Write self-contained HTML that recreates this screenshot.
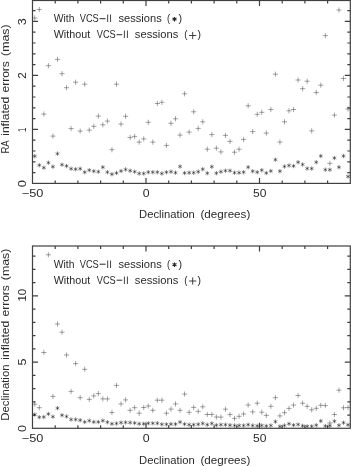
<!DOCTYPE html>
<html><head><meta charset="utf-8"><style>
html,body{margin:0;padding:0;background:#fff;}
svg{display:block;will-change:transform;}
text{font-family:"Liberation Sans", sans-serif;fill:#2a2a2a;}
</style></head><body>
<svg width="351" height="466" viewBox="0 0 351 466">
<rect width="351" height="466" fill="#fff"/>
<defs><clipPath id="c1"><rect x="32.5" y="0.5" width="317.8" height="182.9"/></clipPath><clipPath id="c2"><rect x="32.5" y="246.0" width="317.8" height="182.3"/></clipPath></defs>
<rect x="32.5" y="0.5" width="317.80" height="182.90" fill="none" stroke="#404040" stroke-width="1.2"/>
<path d="M55.20 183.40v-3.0M55.20 0.50v3.0M77.90 183.40v-3.0M77.90 0.50v3.0M100.60 183.40v-3.0M100.60 0.50v3.0M123.30 183.40v-3.0M123.30 0.50v3.0M146.00 183.40v-5.5M146.00 0.50v5.5M168.70 183.40v-3.0M168.70 0.50v3.0M191.40 183.40v-3.0M191.40 0.50v3.0M214.10 183.40v-3.0M214.10 0.50v3.0M236.80 183.40v-3.0M236.80 0.50v3.0M259.50 183.40v-5.5M259.50 0.50v5.5M282.20 183.40v-3.0M282.20 0.50v3.0M304.90 183.40v-3.0M304.90 0.50v3.0M327.60 183.40v-3.0M327.60 0.50v3.0M32.50 172.60h3.0M350.30 172.60h-3.0M32.50 161.80h3.0M350.30 161.80h-3.0M32.50 151.00h3.0M350.30 151.00h-3.0M32.50 140.20h3.0M350.30 140.20h-3.0M32.50 129.40h5.5M350.30 129.40h-5.5M32.50 118.60h3.0M350.30 118.60h-3.0M32.50 107.80h3.0M350.30 107.80h-3.0M32.50 97.00h3.0M350.30 97.00h-3.0M32.50 86.20h3.0M350.30 86.20h-3.0M32.50 75.40h5.5M350.30 75.40h-5.5M32.50 64.60h3.0M350.30 64.60h-3.0M32.50 53.80h3.0M350.30 53.80h-3.0M32.50 43.00h3.0M350.30 43.00h-3.0M32.50 32.20h3.0M350.30 32.20h-3.0M32.50 21.40h5.5M350.30 21.40h-5.5M32.50 10.60h3.0M350.30 10.60h-3.0" stroke="#404040" stroke-width="1.2" fill="none"/>
<rect x="32.5" y="246.0" width="317.80" height="182.30" fill="none" stroke="#404040" stroke-width="1.2"/>
<path d="M55.20 428.30v-3.0M55.20 246.00v3.0M77.90 428.30v-3.0M77.90 246.00v3.0M100.60 428.30v-3.0M100.60 246.00v3.0M123.30 428.30v-3.0M123.30 246.00v3.0M146.00 428.30v-5.5M146.00 246.00v5.5M168.70 428.30v-3.0M168.70 246.00v3.0M191.40 428.30v-3.0M191.40 246.00v3.0M214.10 428.30v-3.0M214.10 246.00v3.0M236.80 428.30v-3.0M236.80 246.00v3.0M259.50 428.30v-5.5M259.50 246.00v5.5M282.20 428.30v-3.0M282.20 246.00v3.0M304.90 428.30v-3.0M304.90 246.00v3.0M327.60 428.30v-3.0M327.60 246.00v3.0M32.50 415.05h3.0M350.30 415.05h-3.0M32.50 401.80h3.0M350.30 401.80h-3.0M32.50 388.55h3.0M350.30 388.55h-3.0M32.50 375.30h3.0M350.30 375.30h-3.0M32.50 362.05h5.5M350.30 362.05h-5.5M32.50 348.80h3.0M350.30 348.80h-3.0M32.50 335.55h3.0M350.30 335.55h-3.0M32.50 322.30h3.0M350.30 322.30h-3.0M32.50 309.05h3.0M350.30 309.05h-3.0M32.50 295.80h5.5M350.30 295.80h-5.5M32.50 282.55h3.0M350.30 282.55h-3.0M32.50 269.30h3.0M350.30 269.30h-3.0M32.50 256.05h3.0M350.30 256.05h-3.0" stroke="#404040" stroke-width="1.2" fill="none"/>
<g clip-path="url(#c1)" fill="none"><path d="M32.17 18.00h5.20M36.71 9.50h5.20M41.25 114.10h5.20M45.79 65.70h5.20M50.33 136.10h5.20M54.87 59.40h5.20M59.41 73.70h5.20M63.95 87.70h5.20M68.49 128.60h5.20M73.03 82.20h5.20M77.57 131.10h5.20M82.11 84.20h5.20M86.65 130.10h5.20M91.19 126.30h5.20M95.73 116.10h5.20M100.27 124.80h5.20M104.81 121.10h5.20M109.35 149.70h5.20M113.89 84.20h5.20M118.43 124.10h5.20M122.97 116.30h5.20M127.51 137.40h5.20M132.05 136.40h5.20M136.59 142.10h5.20M141.13 138.90h5.20M145.67 122.30h5.20M150.21 142.10h5.20M154.75 103.50h5.20M159.29 102.30h5.20M163.83 145.40h5.20M168.37 123.30h5.20M172.91 118.80h5.20M177.45 135.10h5.20M181.99 93.80h5.20M186.53 132.10h5.20M191.07 111.80h5.20M195.61 128.40h5.20M200.15 121.80h5.20M204.69 149.20h5.20M209.23 134.60h5.20M213.77 148.20h5.20M218.31 151.90h5.20M222.85 135.40h5.20M227.39 141.40h5.20M231.93 152.20h5.20M236.47 149.20h5.20M241.01 139.40h5.20M245.55 105.80h5.20M250.09 131.60h5.20M254.63 114.30h5.20M259.17 112.30h5.20M263.71 133.10h5.20M268.25 109.50h5.20M272.79 74.20h5.20M277.33 142.10h5.20M281.87 121.80h5.20M286.41 110.80h5.20M290.95 109.50h5.20M295.49 80.00h5.20M300.03 88.70h5.20M304.57 81.20h5.20M309.11 130.90h5.20M313.65 92.50h5.20M318.19 85.20h5.20M322.73 35.60h5.20M327.27 163.40h5.20M331.81 115.10h5.20M336.35 10.00h5.20M340.89 78.50h5.20M345.43 109.00h5.20" stroke="#000" stroke-opacity="0.42" stroke-width="0.85"/><path d="M34.77 15.40v5.20M39.31 6.90v5.20M43.85 111.50v5.20M48.39 63.10v5.20M52.93 133.50v5.20M57.47 56.80v5.20M62.01 71.10v5.20M66.55 85.10v5.20M71.09 126.00v5.20M75.63 79.60v5.20M80.17 128.50v5.20M84.71 81.60v5.20M89.25 127.50v5.20M93.79 123.70v5.20M98.33 113.50v5.20M102.87 122.20v5.20M107.41 118.50v5.20M111.95 147.10v5.20M116.49 81.60v5.20M121.03 121.50v5.20M125.57 113.70v5.20M130.11 134.80v5.20M134.65 133.80v5.20M139.19 139.50v5.20M143.73 136.30v5.20M148.27 119.70v5.20M152.81 139.50v5.20M157.35 100.90v5.20M161.89 99.70v5.20M166.43 142.80v5.20M170.97 120.70v5.20M175.51 116.20v5.20M180.05 132.50v5.20M184.59 91.20v5.20M189.13 129.50v5.20M193.67 109.20v5.20M198.21 125.80v5.20M202.75 119.20v5.20M207.29 146.60v5.20M211.83 132.00v5.20M216.37 145.60v5.20M220.91 149.30v5.20M225.45 132.80v5.20M229.99 138.80v5.20M234.53 149.60v5.20M239.07 146.60v5.20M243.61 136.80v5.20M248.15 103.20v5.20M252.69 129.00v5.20M257.23 111.70v5.20M261.77 109.70v5.20M266.31 130.50v5.20M270.85 106.90v5.20M275.39 71.60v5.20M279.93 139.50v5.20M284.47 119.20v5.20M289.01 108.20v5.20M293.55 106.90v5.20M298.09 77.40v5.20M302.63 86.10v5.20M307.17 78.60v5.20M311.71 128.30v5.20M316.25 89.90v5.20M320.79 82.60v5.20M325.33 33.00v5.20M329.87 160.80v5.20M334.41 112.50v5.20M338.95 7.40v5.20M343.49 75.90v5.20M348.03 106.40v5.20" stroke="#000" stroke-opacity="0.42" stroke-width="0.85"/><path d="M34.77 154.00v4.40M39.31 163.00v4.40M43.85 165.50v4.40M48.39 160.50v4.40M52.93 164.50v4.40M57.47 151.50v4.40M62.01 162.50v4.40M66.55 163.80v4.40M71.09 166.50v4.40M75.63 167.00v4.40M80.17 166.50v4.40M84.71 170.00v4.40M89.25 168.00v4.40M93.79 169.00v4.40M98.33 169.50v4.40M102.87 165.00v4.40M107.41 170.00v4.40M111.95 172.00v4.40M116.49 170.80v4.40M121.03 168.80v4.40M125.57 167.30v4.40M130.11 168.50v4.40M134.65 169.50v4.40M139.19 171.30v4.40M143.73 171.30v4.40M148.27 170.00v4.40M152.81 170.00v4.40M157.35 170.00v4.40M161.89 171.30v4.40M166.43 170.00v4.40M170.97 169.50v4.40M175.51 170.50v4.40M180.05 164.30v4.40M184.59 170.80v4.40M189.13 170.50v4.40M193.67 170.50v4.40M198.21 169.50v4.40M202.75 167.00v4.40M207.29 171.00v4.40M211.83 164.50v4.40M216.37 171.00v4.40M220.91 169.50v4.40M225.45 168.50v4.40M229.99 168.50v4.40M234.53 170.50v4.40M239.07 170.50v4.40M243.61 170.00v4.40M248.15 165.00v4.40M252.69 169.00v4.40M257.23 170.00v4.40M261.77 168.00v4.40M266.31 170.80v4.40M270.85 168.80v4.40M275.39 157.50v4.40M279.93 169.00v4.40M284.47 164.30v4.40M289.01 163.30v4.40M293.55 163.80v4.40M298.09 160.00v4.40M302.63 162.30v4.40M307.17 166.30v4.40M311.71 166.30v4.40M316.25 160.00v4.40M320.79 153.80v4.40M325.33 167.50v4.40M329.87 167.50v4.40M334.41 155.80v4.40M338.95 165.00v4.40M343.49 153.80v4.40M348.03 174.30v4.40" stroke="#000" stroke-opacity="0.5" stroke-width="0.9"/><path d="M32.86 155.10L36.68 157.30M37.40 164.10L41.22 166.30M41.94 166.60L45.76 168.80M46.48 161.60L50.30 163.80M51.02 165.60L54.84 167.80M55.56 152.60L59.38 154.80M60.10 163.60L63.92 165.80M64.64 164.90L68.46 167.10M69.18 167.60L73.00 169.80M73.72 168.10L77.54 170.30M78.26 167.60L82.08 169.80M82.80 171.10L86.62 173.30M87.34 169.10L91.16 171.30M91.88 170.10L95.70 172.30M96.42 170.60L100.24 172.80M100.96 166.10L104.78 168.30M105.50 171.10L109.32 173.30M110.04 173.10L113.86 175.30M114.58 171.90L118.40 174.10M119.12 169.90L122.94 172.10M123.66 168.40L127.48 170.60M128.20 169.60L132.02 171.80M132.74 170.60L136.56 172.80M137.28 172.40L141.10 174.60M141.82 172.40L145.64 174.60M146.36 171.10L150.18 173.30M150.90 171.10L154.72 173.30M155.44 171.10L159.26 173.30M159.98 172.40L163.80 174.60M164.52 171.10L168.34 173.30M169.06 170.60L172.88 172.80M173.60 171.60L177.42 173.80M178.14 165.40L181.96 167.60M182.68 171.90L186.50 174.10M187.22 171.60L191.04 173.80M191.76 171.60L195.58 173.80M196.30 170.60L200.12 172.80M200.84 168.10L204.66 170.30M205.38 172.10L209.20 174.30M209.92 165.60L213.74 167.80M214.46 172.10L218.28 174.30M219.00 170.60L222.82 172.80M223.54 169.60L227.36 171.80M228.08 169.60L231.90 171.80M232.62 171.60L236.44 173.80M237.16 171.60L240.98 173.80M241.70 171.10L245.52 173.30M246.24 166.10L250.06 168.30M250.78 170.10L254.60 172.30M255.32 171.10L259.14 173.30M259.86 169.10L263.68 171.30M264.40 171.90L268.22 174.10M268.94 169.90L272.76 172.10M273.48 158.60L277.30 160.80M278.02 170.10L281.84 172.30M282.56 165.40L286.38 167.60M287.10 164.40L290.92 166.60M291.64 164.90L295.46 167.10M296.18 161.10L300.00 163.30M300.72 163.40L304.54 165.60M305.26 167.40L309.08 169.60M309.80 167.40L313.62 169.60M314.34 161.10L318.16 163.30M318.88 154.90L322.70 157.10M323.42 168.60L327.24 170.80M327.96 168.60L331.78 170.80M332.50 156.90L336.32 159.10M337.04 166.10L340.86 168.30M341.58 154.90L345.40 157.10M346.12 175.40L349.94 177.60" stroke="#000" stroke-opacity="0.5" stroke-width="0.9"/><path d="M32.86 157.30L36.68 155.10M37.40 166.30L41.22 164.10M41.94 168.80L45.76 166.60M46.48 163.80L50.30 161.60M51.02 167.80L54.84 165.60M55.56 154.80L59.38 152.60M60.10 165.80L63.92 163.60M64.64 167.10L68.46 164.90M69.18 169.80L73.00 167.60M73.72 170.30L77.54 168.10M78.26 169.80L82.08 167.60M82.80 173.30L86.62 171.10M87.34 171.30L91.16 169.10M91.88 172.30L95.70 170.10M96.42 172.80L100.24 170.60M100.96 168.30L104.78 166.10M105.50 173.30L109.32 171.10M110.04 175.30L113.86 173.10M114.58 174.10L118.40 171.90M119.12 172.10L122.94 169.90M123.66 170.60L127.48 168.40M128.20 171.80L132.02 169.60M132.74 172.80L136.56 170.60M137.28 174.60L141.10 172.40M141.82 174.60L145.64 172.40M146.36 173.30L150.18 171.10M150.90 173.30L154.72 171.10M155.44 173.30L159.26 171.10M159.98 174.60L163.80 172.40M164.52 173.30L168.34 171.10M169.06 172.80L172.88 170.60M173.60 173.80L177.42 171.60M178.14 167.60L181.96 165.40M182.68 174.10L186.50 171.90M187.22 173.80L191.04 171.60M191.76 173.80L195.58 171.60M196.30 172.80L200.12 170.60M200.84 170.30L204.66 168.10M205.38 174.30L209.20 172.10M209.92 167.80L213.74 165.60M214.46 174.30L218.28 172.10M219.00 172.80L222.82 170.60M223.54 171.80L227.36 169.60M228.08 171.80L231.90 169.60M232.62 173.80L236.44 171.60M237.16 173.80L240.98 171.60M241.70 173.30L245.52 171.10M246.24 168.30L250.06 166.10M250.78 172.30L254.60 170.10M255.32 173.30L259.14 171.10M259.86 171.30L263.68 169.10M264.40 174.10L268.22 171.90M268.94 172.10L272.76 169.90M273.48 160.80L277.30 158.60M278.02 172.30L281.84 170.10M282.56 167.60L286.38 165.40M287.10 166.60L290.92 164.40M291.64 167.10L295.46 164.90M296.18 163.30L300.00 161.10M300.72 165.60L304.54 163.40M305.26 169.60L309.08 167.40M309.80 169.60L313.62 167.40M314.34 163.30L318.16 161.10M318.88 157.10L322.70 154.90M323.42 170.80L327.24 168.60M327.96 170.80L331.78 168.60M332.50 159.10L336.32 156.90M337.04 168.30L340.86 166.10M341.58 157.10L345.40 154.90M346.12 177.60L349.94 175.40" stroke="#000" stroke-opacity="0.5" stroke-width="0.9"/></g>
<g clip-path="url(#c2)" fill="none"><path d="M32.17 404.20h5.20M36.71 407.70h5.20M41.25 352.50h5.20M45.79 254.80h5.20M50.33 396.40h5.20M54.87 324.00h5.20M59.41 332.20h5.20M63.95 355.00h5.20M68.49 391.40h5.20M73.03 363.60h5.20M77.57 397.70h5.20M82.11 369.30h5.20M86.65 399.40h5.20M91.19 395.90h5.20M95.73 393.60h5.20M100.27 398.90h5.20M104.81 398.90h5.20M109.35 412.50h5.20M113.89 385.40h5.20M118.43 403.90h5.20M122.97 399.90h5.20M127.51 410.30h5.20M132.05 407.70h5.20M136.59 413.20h5.20M141.13 407.50h5.20M145.67 406.00h5.20M150.21 410.30h5.20M154.75 400.20h5.20M159.29 400.20h5.20M163.83 413.20h5.20M168.37 409.10h5.20M172.91 403.90h5.20M177.45 410.30h5.20M181.99 394.10h5.20M186.53 412.30h5.20M191.07 407.40h5.20M195.61 411.40h5.20M200.15 406.80h5.20M204.69 414.50h5.20M209.23 414.50h5.20M213.77 417.00h5.20M218.31 417.10h5.20M222.85 409.20h5.20M227.39 414.60h5.20M231.93 418.40h5.20M236.47 416.30h5.20M241.01 414.00h5.20M245.55 405.00h5.20M250.09 411.90h5.20M254.63 403.20h5.20M259.17 412.20h5.20M263.71 415.40h5.20M268.25 406.30h5.20M272.79 397.70h5.20M277.33 415.90h5.20M281.87 412.70h5.20M286.41 408.40h5.20M290.95 405.10h5.20M295.49 395.50h5.20M300.03 403.20h5.20M304.57 406.30h5.20M309.11 409.80h5.20M313.65 408.30h5.20M318.19 405.30h5.20M322.73 405.60h5.20M327.27 423.00h5.20M331.81 414.50h5.20M336.35 390.20h5.20M340.89 407.80h5.20M345.43 407.50h5.20" stroke="#000" stroke-opacity="0.42" stroke-width="0.85"/><path d="M34.77 401.60v5.20M39.31 405.10v5.20M43.85 349.90v5.20M48.39 252.20v5.20M52.93 393.80v5.20M57.47 321.40v5.20M62.01 329.60v5.20M66.55 352.40v5.20M71.09 388.80v5.20M75.63 361.00v5.20M80.17 395.10v5.20M84.71 366.70v5.20M89.25 396.80v5.20M93.79 393.30v5.20M98.33 391.00v5.20M102.87 396.30v5.20M107.41 396.30v5.20M111.95 409.90v5.20M116.49 382.80v5.20M121.03 401.30v5.20M125.57 397.30v5.20M130.11 407.70v5.20M134.65 405.10v5.20M139.19 410.60v5.20M143.73 404.90v5.20M148.27 403.40v5.20M152.81 407.70v5.20M157.35 397.60v5.20M161.89 397.60v5.20M166.43 410.60v5.20M170.97 406.50v5.20M175.51 401.30v5.20M180.05 407.70v5.20M184.59 391.50v5.20M189.13 409.70v5.20M193.67 404.80v5.20M198.21 408.80v5.20M202.75 404.20v5.20M207.29 411.90v5.20M211.83 411.90v5.20M216.37 414.40v5.20M220.91 414.50v5.20M225.45 406.60v5.20M229.99 412.00v5.20M234.53 415.80v5.20M239.07 413.70v5.20M243.61 411.40v5.20M248.15 402.40v5.20M252.69 409.30v5.20M257.23 400.60v5.20M261.77 409.60v5.20M266.31 412.80v5.20M270.85 403.70v5.20M275.39 395.10v5.20M279.93 413.30v5.20M284.47 410.10v5.20M289.01 405.80v5.20M293.55 402.50v5.20M298.09 392.90v5.20M302.63 400.60v5.20M307.17 403.70v5.20M311.71 407.20v5.20M316.25 405.70v5.20M320.79 402.70v5.20M325.33 403.00v5.20M329.87 420.40v5.20M334.41 411.90v5.20M338.95 387.60v5.20M343.49 405.20v5.20M348.03 404.90v5.20" stroke="#000" stroke-opacity="0.42" stroke-width="0.85"/><path d="M34.77 412.30v4.40M39.31 415.00v4.40M43.85 414.80v4.40M48.39 411.80v4.40M52.93 414.50v4.40M57.47 406.00v4.40M62.01 413.00v4.40M66.55 414.30v4.40M71.09 417.30v4.40M75.63 417.30v4.40M80.17 418.00v4.40M84.71 419.80v4.40M89.25 418.50v4.40M93.79 419.80v4.40M98.33 419.80v4.40M102.87 418.50v4.40M107.41 420.00v4.40M111.95 421.60v4.40M116.49 421.30v4.40M121.03 420.40v4.40M125.57 420.20v4.40M130.11 420.40v4.40M134.65 420.80v4.40M139.19 421.60v4.40M143.73 421.60v4.40M148.27 421.10v4.40M152.81 421.10v4.40M157.35 421.10v4.40M161.89 422.10v4.40M166.43 422.10v4.40M170.97 421.90v4.40M175.51 421.90v4.40M180.05 419.90v4.40M184.59 421.90v4.40M189.13 422.50v4.40M193.67 422.50v4.40M198.21 422.10v4.40M202.75 421.30v4.40M207.29 422.50v4.40M211.83 421.30v4.40M216.37 423.00v4.40M220.91 422.50v4.40M225.45 422.50v4.40M229.99 423.00v4.40M234.53 423.30v4.40M239.07 423.30v4.40M243.61 423.30v4.40M248.15 422.50v4.40M252.69 423.30v4.40M257.23 423.70v4.40M261.77 423.30v4.40M266.31 423.80v4.40M270.85 423.30v4.40M275.39 419.40v4.40M279.93 424.20v4.40M284.47 423.30v4.40M289.01 421.60v4.40M293.55 422.90v4.40M298.09 422.30v4.40M302.63 423.60v4.40M307.17 424.10v4.40M311.71 424.10v4.40M316.25 423.00v4.40M320.79 418.80v4.40M325.33 423.80v4.40M329.87 423.60v4.40M334.41 419.00v4.40M338.95 423.10v4.40M343.49 420.50v4.40M348.03 422.60v4.40" stroke="#000" stroke-opacity="0.5" stroke-width="0.9"/><path d="M32.86 413.40L36.68 415.60M37.40 416.10L41.22 418.30M41.94 415.90L45.76 418.10M46.48 412.90L50.30 415.10M51.02 415.60L54.84 417.80M55.56 407.10L59.38 409.30M60.10 414.10L63.92 416.30M64.64 415.40L68.46 417.60M69.18 418.40L73.00 420.60M73.72 418.40L77.54 420.60M78.26 419.10L82.08 421.30M82.80 420.90L86.62 423.10M87.34 419.60L91.16 421.80M91.88 420.90L95.70 423.10M96.42 420.90L100.24 423.10M100.96 419.60L104.78 421.80M105.50 421.10L109.32 423.30M110.04 422.70L113.86 424.90M114.58 422.40L118.40 424.60M119.12 421.50L122.94 423.70M123.66 421.30L127.48 423.50M128.20 421.50L132.02 423.70M132.74 421.90L136.56 424.10M137.28 422.70L141.10 424.90M141.82 422.70L145.64 424.90M146.36 422.20L150.18 424.40M150.90 422.20L154.72 424.40M155.44 422.20L159.26 424.40M159.98 423.20L163.80 425.40M164.52 423.20L168.34 425.40M169.06 423.00L172.88 425.20M173.60 423.00L177.42 425.20M178.14 421.00L181.96 423.20M182.68 423.00L186.50 425.20M187.22 423.60L191.04 425.80M191.76 423.60L195.58 425.80M196.30 423.20L200.12 425.40M200.84 422.40L204.66 424.60M205.38 423.60L209.20 425.80M209.92 422.40L213.74 424.60M214.46 424.10L218.28 426.30M219.00 423.60L222.82 425.80M223.54 423.60L227.36 425.80M228.08 424.10L231.90 426.30M232.62 424.40L236.44 426.60M237.16 424.40L240.98 426.60M241.70 424.40L245.52 426.60M246.24 423.60L250.06 425.80M250.78 424.40L254.60 426.60M255.32 424.80L259.14 427.00M259.86 424.40L263.68 426.60M264.40 424.90L268.22 427.10M268.94 424.40L272.76 426.60M273.48 420.50L277.30 422.70M278.02 425.30L281.84 427.50M282.56 424.40L286.38 426.60M287.10 422.70L290.92 424.90M291.64 424.00L295.46 426.20M296.18 423.40L300.00 425.60M300.72 424.70L304.54 426.90M305.26 425.20L309.08 427.40M309.80 425.20L313.62 427.40M314.34 424.10L318.16 426.30M318.88 419.90L322.70 422.10M323.42 424.90L327.24 427.10M327.96 424.70L331.78 426.90M332.50 420.10L336.32 422.30M337.04 424.20L340.86 426.40M341.58 421.60L345.40 423.80M346.12 423.70L349.94 425.90" stroke="#000" stroke-opacity="0.5" stroke-width="0.9"/><path d="M32.86 415.60L36.68 413.40M37.40 418.30L41.22 416.10M41.94 418.10L45.76 415.90M46.48 415.10L50.30 412.90M51.02 417.80L54.84 415.60M55.56 409.30L59.38 407.10M60.10 416.30L63.92 414.10M64.64 417.60L68.46 415.40M69.18 420.60L73.00 418.40M73.72 420.60L77.54 418.40M78.26 421.30L82.08 419.10M82.80 423.10L86.62 420.90M87.34 421.80L91.16 419.60M91.88 423.10L95.70 420.90M96.42 423.10L100.24 420.90M100.96 421.80L104.78 419.60M105.50 423.30L109.32 421.10M110.04 424.90L113.86 422.70M114.58 424.60L118.40 422.40M119.12 423.70L122.94 421.50M123.66 423.50L127.48 421.30M128.20 423.70L132.02 421.50M132.74 424.10L136.56 421.90M137.28 424.90L141.10 422.70M141.82 424.90L145.64 422.70M146.36 424.40L150.18 422.20M150.90 424.40L154.72 422.20M155.44 424.40L159.26 422.20M159.98 425.40L163.80 423.20M164.52 425.40L168.34 423.20M169.06 425.20L172.88 423.00M173.60 425.20L177.42 423.00M178.14 423.20L181.96 421.00M182.68 425.20L186.50 423.00M187.22 425.80L191.04 423.60M191.76 425.80L195.58 423.60M196.30 425.40L200.12 423.20M200.84 424.60L204.66 422.40M205.38 425.80L209.20 423.60M209.92 424.60L213.74 422.40M214.46 426.30L218.28 424.10M219.00 425.80L222.82 423.60M223.54 425.80L227.36 423.60M228.08 426.30L231.90 424.10M232.62 426.60L236.44 424.40M237.16 426.60L240.98 424.40M241.70 426.60L245.52 424.40M246.24 425.80L250.06 423.60M250.78 426.60L254.60 424.40M255.32 427.00L259.14 424.80M259.86 426.60L263.68 424.40M264.40 427.10L268.22 424.90M268.94 426.60L272.76 424.40M273.48 422.70L277.30 420.50M278.02 427.50L281.84 425.30M282.56 426.60L286.38 424.40M287.10 424.90L290.92 422.70M291.64 426.20L295.46 424.00M296.18 425.60L300.00 423.40M300.72 426.90L304.54 424.70M305.26 427.40L309.08 425.20M309.80 427.40L313.62 425.20M314.34 426.30L318.16 424.10M318.88 422.10L322.70 419.90M323.42 427.10L327.24 424.90M327.96 426.90L331.78 424.70M332.50 422.30L336.32 420.10M337.04 426.40L340.86 424.20M341.58 423.80L345.40 421.60M346.12 425.90L349.94 423.70" stroke="#000" stroke-opacity="0.5" stroke-width="0.9"/></g>
<rect x="99.6" y="18.20" width="6.00" height="1.0" fill="#2a2a2a"/>
<rect x="107.2" y="14.50" width="0.95" height="7.5" fill="#3a3a3a"/>
<rect x="110.1" y="14.50" width="0.95" height="7.5" fill="#3a3a3a"/>
<rect x="116.6" y="34.20" width="5.60" height="1.0" fill="#2a2a2a"/>
<rect x="123.9" y="30.50" width="0.95" height="7.5" fill="#3a3a3a"/>
<rect x="126.9" y="30.50" width="0.95" height="7.5" fill="#3a3a3a"/>
<path d="M174.50 16.90v4.60M172.51 18.05L176.49 20.35M172.51 20.35L176.49 18.05" stroke="#2a2a2a" stroke-width="1.15" fill="none"/>
<path d="M189.10 35.50h7.20M192.70 31.90v7.20" stroke="#2a2a2a" stroke-width="0.9" fill="none"/>
<rect x="99.6" y="263.70" width="6.00" height="1.0" fill="#2a2a2a"/>
<rect x="107.2" y="260.50" width="0.95" height="7.5" fill="#3a3a3a"/>
<rect x="110.1" y="260.50" width="0.95" height="7.5" fill="#3a3a3a"/>
<rect x="116.6" y="279.70" width="5.60" height="1.0" fill="#2a2a2a"/>
<rect x="123.9" y="276.50" width="0.95" height="7.5" fill="#3a3a3a"/>
<rect x="126.9" y="276.50" width="0.95" height="7.5" fill="#3a3a3a"/>
<path d="M174.50 262.40v4.60M172.51 263.55L176.49 265.85M172.51 265.85L176.49 263.55" stroke="#2a2a2a" stroke-width="1.15" fill="none"/>
<path d="M189.10 281.00h7.20M192.70 277.40v7.20" stroke="#2a2a2a" stroke-width="0.9" fill="none"/>
<text x="53.72" y="22.3" font-size="10.8" textLength="20.75" lengthAdjust="spacingAndGlyphs">With</text>
<text x="79.72" y="22.3" font-size="10.8" textLength="19.08" lengthAdjust="spacingAndGlyphs">VCS</text>
<text x="118.47" y="22.3" font-size="10.8" textLength="43.25" lengthAdjust="spacingAndGlyphs">sessions</text>
<text x="167.07" y="22.3" font-size="10.8" textLength="3.12" lengthAdjust="spacingAndGlyphs">(</text>
<text x="178.45" y="22.3" font-size="10.8" textLength="3.60" lengthAdjust="spacingAndGlyphs">)</text>
<text x="53.72" y="38.4" font-size="10.8" textLength="36.47" lengthAdjust="spacingAndGlyphs">Without</text>
<text x="96.72" y="38.4" font-size="10.8" textLength="19.00" lengthAdjust="spacingAndGlyphs">VCS</text>
<text x="134.82" y="38.4" font-size="10.8" textLength="43.55" lengthAdjust="spacingAndGlyphs">sessions</text>
<text x="184.30" y="38.4" font-size="10.8" textLength="3.25" lengthAdjust="spacingAndGlyphs">(</text>
<text x="197.38" y="38.4" font-size="10.8" textLength="3.52" lengthAdjust="spacingAndGlyphs">)</text>
<text x="139.12" y="218.0" font-size="10.8" textLength="55.55" lengthAdjust="spacingAndGlyphs">Declination</text>
<text x="200.45" y="218.0" font-size="10.8" textLength="49.88" lengthAdjust="spacingAndGlyphs">(degrees)</text>
<text x="21.80" y="196.6" font-size="10.8" textLength="21.62" lengthAdjust="spacingAndGlyphs">−50</text>
<text x="142.77" y="196.6" font-size="10.8" textLength="6.88" lengthAdjust="spacingAndGlyphs">0</text>
<text x="253.00" y="196.6" font-size="10.8" textLength="13.42" lengthAdjust="spacingAndGlyphs">50</text>
<text x="53.72" y="267.8" font-size="10.8" textLength="20.75" lengthAdjust="spacingAndGlyphs">With</text>
<text x="79.72" y="267.8" font-size="10.8" textLength="19.08" lengthAdjust="spacingAndGlyphs">VCS</text>
<text x="118.47" y="267.8" font-size="10.8" textLength="43.25" lengthAdjust="spacingAndGlyphs">sessions</text>
<text x="167.07" y="267.8" font-size="10.8" textLength="3.12" lengthAdjust="spacingAndGlyphs">(</text>
<text x="178.45" y="267.8" font-size="10.8" textLength="3.60" lengthAdjust="spacingAndGlyphs">)</text>
<text x="53.72" y="283.9" font-size="10.8" textLength="36.47" lengthAdjust="spacingAndGlyphs">Without</text>
<text x="96.72" y="283.9" font-size="10.8" textLength="19.00" lengthAdjust="spacingAndGlyphs">VCS</text>
<text x="134.82" y="283.9" font-size="10.8" textLength="43.55" lengthAdjust="spacingAndGlyphs">sessions</text>
<text x="184.30" y="283.9" font-size="10.8" textLength="3.25" lengthAdjust="spacingAndGlyphs">(</text>
<text x="197.38" y="283.9" font-size="10.8" textLength="3.52" lengthAdjust="spacingAndGlyphs">)</text>
<text x="139.12" y="463.5" font-size="10.8" textLength="55.55" lengthAdjust="spacingAndGlyphs">Declination</text>
<text x="200.45" y="463.5" font-size="10.8" textLength="49.88" lengthAdjust="spacingAndGlyphs">(degrees)</text>
<text x="21.80" y="442.1" font-size="10.8" textLength="21.62" lengthAdjust="spacingAndGlyphs">−50</text>
<text x="142.77" y="442.1" font-size="10.8" textLength="6.88" lengthAdjust="spacingAndGlyphs">0</text>
<text x="253.00" y="442.1" font-size="10.8" textLength="13.42" lengthAdjust="spacingAndGlyphs">50</text>
<text x="0" y="0" font-size="10.8" textLength="13.22" lengthAdjust="spacingAndGlyphs" transform="translate(9.3 153.53) rotate(-90)">RA</text>
<text x="0" y="0" font-size="10.8" textLength="39.00" lengthAdjust="spacingAndGlyphs" transform="translate(9.3 135.80) rotate(-90)">inflated</text>
<text x="0" y="0" font-size="10.8" textLength="31.22" lengthAdjust="spacingAndGlyphs" transform="translate(9.3 92.45) rotate(-90)">errors</text>
<text x="0" y="0" font-size="10.8" textLength="31.45" lengthAdjust="spacingAndGlyphs" transform="translate(9.3 55.92) rotate(-90)">(mas)</text>
<text x="0" y="0" font-size="10.8" textLength="56.20" lengthAdjust="spacingAndGlyphs" transform="translate(9.3 420.68) rotate(-90)">Declination</text>
<text x="0" y="0" font-size="10.8" textLength="38.98" lengthAdjust="spacingAndGlyphs" transform="translate(9.3 359.78) rotate(-90)">inflated</text>
<text x="0" y="0" font-size="10.8" textLength="31.37" lengthAdjust="spacingAndGlyphs" transform="translate(9.3 316.55) rotate(-90)">errors</text>
<text x="0" y="0" font-size="10.8" textLength="31.55" lengthAdjust="spacingAndGlyphs" transform="translate(9.3 280.20) rotate(-90)">(mas)</text>
<text x="0" y="0" font-size="10.8" textLength="7.15" lengthAdjust="spacingAndGlyphs" transform="translate(25.6 187.23) rotate(-90)">0</text>
<text x="0" y="0" font-size="10.8" textLength="4.30" lengthAdjust="spacingAndGlyphs" transform="translate(25.6 131.93) rotate(-90)">1</text>
<text x="0" y="0" font-size="10.8" textLength="6.55" lengthAdjust="spacingAndGlyphs" transform="translate(25.6 78.85) rotate(-90)">2</text>
<text x="0" y="0" font-size="10.8" textLength="7.00" lengthAdjust="spacingAndGlyphs" transform="translate(25.6 25.23) rotate(-90)">3</text>
<text x="0" y="0" font-size="10.8" textLength="7.00" lengthAdjust="spacingAndGlyphs" transform="translate(25.6 432.08) rotate(-90)">0</text>
<text x="0" y="0" font-size="10.8" textLength="7.00" lengthAdjust="spacingAndGlyphs" transform="translate(25.6 365.58) rotate(-90)">5</text>
<text x="0" y="0" font-size="10.8" textLength="12.68" lengthAdjust="spacingAndGlyphs" transform="translate(25.6 301.60) rotate(-90)">10</text>
</svg>
</body></html>
